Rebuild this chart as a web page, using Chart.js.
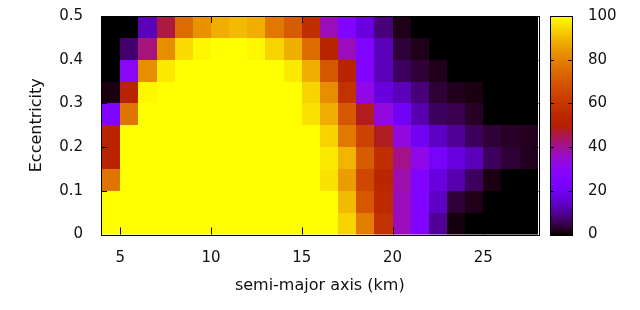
<!DOCTYPE html>
<html>
<head>
<meta charset="utf-8">
<script src="https://cdn.jsdelivr.net/npm/chart.js@4.4.0/dist/chart.umd.min.js"></script>
<style>
  html, body { margin: 0; padding: 0; background: #fff; }
  #wrap { width: 640px; height: 310px; }
</style>
</head>
<body>
<div id="wrap"><canvas id="chartHist" width="640" height="310"></canvas></div>
<script>
// bin left edges (semi-major axis, km) and lower edges (eccentricity)
const aBins = [4,5,6,7,8,9,10,11,12,13,14,15,16,17,18,19,20,21,22,23,24,25,26,27];
const eBins = [0, 0.05, 0.1, 0.15, 0.2, 0.25, 0.3, 0.35, 0.4, 0.45];
const aWidth = 1, eWidth = 0.05;

// percentage per bin, one row per eccentricity bin (bottom to top)
const pct000 = [100,100,100,100,100,100,100,100,100,100,100,100,100,94,79,58,37,25,10,0.8,0,0,0,0];
const pct005 = [100,100,100,100,100,100,100,100,100,100,100,100,100,90,70,55,37,25,14,3.5,1.5,0,0,0];
const pct010 = [77,100,100,100,100,100,100,100,100,100,100,100,96,85,65,53,38,25,17,12,6,1,0,0];
const pct015 = [52,100,100,100,100,100,100,100,100,100,100,100,97,89,71,57,41,32,22,17,13,6,3.5,2];
const pct020 = [52,100,100,100,100,100,100,100,100,100,100,100,94,78,64,48,33,20,14,10,6,3.5,2.5,2];
const pct025 = [25,77,100,100,100,100,100,100,100,100,100,96,88,70,48,33,20,12,6,5,2.5,0,0,0];
const pct030 = [1,52,99,100,100,100,100,100,100,100,100,94,82,58,32,17,13,8,3.5,1.8,1,0,0,0];
const pct035 = [0,29,82,97,100,100,100,100,100,100,97,88,70,52,26,13,6,3.5,1.5,0,0,0,0,0];
const pct040 = [0,7,42,82,95,99,100,100,99,94,88,75,52,37,25,13,3.5,1.5,0,0,0,0,0,0];
const pct045 = [0,0,13,46,75,83,88,90,88,78,71,57,37,25,17,8,1.5,0,0,0,0,0,0,0];
const pctRows = [pct000, pct005, pct010, pct015, pct020, pct025, pct030, pct035, pct040, pct045];

const xTicks = [5, 10, 15, 20, 25];
const yTicks = [0, 0.1, 0.2, 0.3, 0.4, 0.5];
const cbTicks = [0, 20, 40, 60, 80, 100];

// gnuplot default palette (rgbformulae 7,5,15)
function palette(v){
  const t = Math.min(1, Math.max(0, v/100));
  const r = Math.sqrt(t), g = t*t*t, b = Math.max(0, Math.sin(2*Math.PI*t));
  return 'rgb(' + Math.round(r*255) + ',' + Math.round(g*255) + ',' + Math.round(b*255) + ')';
}

const heatmap = {
  id: 'heatmap',
  beforeDatasetsDraw(chart){
    const {ctx, chartArea: ca, scales: {x, y}} = chart;
    ctx.save();
    ctx.beginPath();
    ctx.rect(ca.left, ca.top, ca.right - ca.left, ca.bottom - ca.top);
    ctx.clip();
    pctRows.forEach((row, j) => {
      const e = eBins[j];
      const y0 = Math.round(y.getPixelForValue(e));
      const y1 = Math.round(y.getPixelForValue(e + eWidth));
      row.forEach((v, i) => {
        const a = aBins[i];
        const x0 = Math.round(x.getPixelForValue(i === 0 ? x.min : a));
        const x1 = Math.round(x.getPixelForValue(a + aWidth));
        ctx.fillStyle = palette(v);
        ctx.fillRect(x0, y1, x1 - x0, y0 - y1);
      });
    });
    ctx.restore();
  }
};

const frame = {
  id: 'frame',
  afterDraw(chart){
    const {ctx, chartArea: ca, scales: {x, y, cb}} = chart;
    ctx.save();
    ctx.strokeStyle = '#000';
    ctx.lineWidth = 1;
    ctx.beginPath();
    x.ticks.forEach(t => {
      const px = Math.round(x.getPixelForValue(t.value)) + 0.5;
      ctx.moveTo(px, ca.bottom); ctx.lineTo(px, ca.bottom - 7);
      ctx.moveTo(px, ca.top); ctx.lineTo(px, ca.top + 7);
    });
    y.ticks.forEach(t => {
      const py = Math.round(y.getPixelForValue(t.value)) + 0.5;
      ctx.moveTo(ca.left, py); ctx.lineTo(ca.left + 6, py);
      ctx.moveTo(ca.right, py); ctx.lineTo(ca.right - 6, py);
    });
    ctx.stroke();
    ctx.strokeRect(Math.round(ca.left) + 0.5, Math.round(ca.top) + 0.5,
      Math.round(ca.right) - Math.round(ca.left), Math.round(ca.bottom) - Math.round(ca.top));

    // colour box
    const cbL = Math.round(ca.right) + 11, cbW = 22;
    for(let py = Math.round(cb.top); py < Math.round(cb.bottom); py++){
      ctx.fillStyle = palette(cb.getValueForPixel(py + 0.5));
      ctx.fillRect(cbL, py, cbW, 1);
    }
    ctx.beginPath();
    cb.ticks.forEach(t => {
      const py = Math.round(cb.getPixelForValue(t.value)) + 0.5;
      ctx.moveTo(cbL, py); ctx.lineTo(cbL + 4, py);
      ctx.moveTo(cbL + cbW, py); ctx.lineTo(cbL + cbW - 4, py);
    });
    ctx.stroke();
    ctx.strokeRect(cbL + 0.5, Math.round(cb.top) + 0.5, cbW, Math.round(cb.bottom) - Math.round(cb.top));
    ctx.restore();
  }
};

Chart.defaults.font.family = '"DejaVu Sans", sans-serif';
Chart.defaults.color = '#111';

new Chart(document.getElementById('chartHist'), {
  type: 'scatter',
  data: { datasets: [] },
  options: {
    responsive: false,
    animation: false,
    layout: { padding: 0 },
    plugins: { legend: { display: false }, tooltip: { enabled: false } },
    scales: {
      x: {
        type: 'linear', position: 'bottom', min: 3.94, max: 28.04,
        afterBuildTicks: s => { s.ticks = xTicks.map(v => ({ value: v })); },
        afterFit: s => { s.height = 75.5; },
        grid: { display: false, drawTicks: true, tickLength: 8 },
        border: { display: false },
        ticks: { font: { size: 15 }, padding: 7, maxRotation: 0, autoSkip: false },
        title: { display: true, text: 'semi-major axis (km)', font: { size: 16 }, padding: { top: 0, bottom: 14.4 } }
      },
      y: {
        type: 'linear', position: 'left', min: 0, max: 0.5,
        afterBuildTicks: s => { s.ticks = yTicks.map(v => ({ value: v })); },
        afterFit: s => { s.width = 101; },
        grid: { display: false, drawTicks: true, tickLength: 11 },
        border: { display: false },
        ticks: { font: { size: 15 }, padding: 7, autoSkip: false,
          callback: v => v === 0 ? '0' : v.toFixed(1) },
        title: { display: true, text: 'Eccentricity', font: { size: 16 }, padding: { top: 27.4, bottom: 0 } }
      },
      cb: {
        type: 'linear', axis: 'y', position: 'right', min: 0, max: 100,
        afterBuildTicks: s => { s.ticks = cbTicks.map(v => ({ value: v })); },
        afterFit: s => { s.width = 101.5; },
        grid: { display: false, drawTicks: true, tickLength: 42.5 },
        border: { display: false },
        ticks: { font: { size: 15 }, padding: 7, autoSkip: false }
      }
    }
  },
  plugins: [heatmap, frame]
});
</script>
</body>
</html>
